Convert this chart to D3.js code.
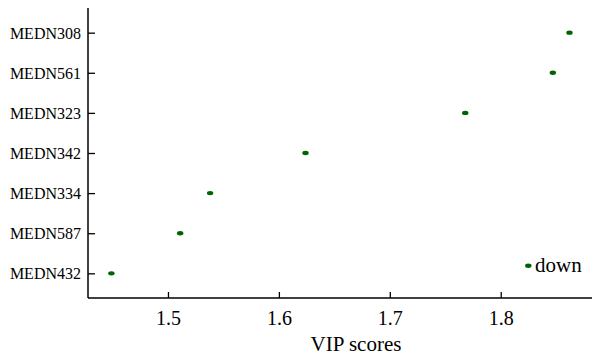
<!DOCTYPE html>
<html>
<head>
<meta charset="utf-8">
<script src="https://cdn.jsdelivr.net/npm/d3@7"></script>
</head>
<body style="margin:0; background:#fff">
<div id="chart"></div>
<script>
// metabolites from top to bottom, with their VIP scores
const metabolites = ["MEDN308", "MEDN561", "MEDN323", "MEDN342", "MEDN334", "MEDN587", "MEDN432"];
const vipScores = [1.862, 1.847, 1.768, 1.624, 1.538, 1.511, 1.449];
const xTicks = [1.5, 1.6, 1.7, 1.8];
const legendLabel = "down";

const width = 592, height = 360;
const plotLeft = 88, plotRight = 592, plotTop = 8, plotBottom = 298;
const serif = '"Liberation Serif"';

const svg = d3.select('#chart').append('svg')
    .attr('width', width)
    .attr('height', height);

const x = d3.scaleLinear().domain([1.4279, 1.8823]).range([plotLeft, plotRight]);
// MEDN308 on top, so reversed domain against a bottom-to-top range
const y = d3.scalePoint().domain(metabolites.slice().reverse())
    .range([plotBottom, plotTop]).padding(0.615);

// x axis
const xAxis = svg.append('g')
    .attr('transform', `translate(0,${plotBottom})`)
    .call(d3.axisBottom(x).tickValues(xTicks).tickSize(-6).tickPadding(12).tickFormat(d3.format('.1f')));
xAxis.select('.domain').remove();
xAxis.selectAll('line').attr('stroke-width', 1.3);
xAxis.selectAll('text')
    .style('font-family', serif).style('font-size', '20px').attr('fill', '#000').attr('dy', '0.75em');

// y axis
const yAxis = svg.append('g')
    .attr('transform', `translate(${plotLeft},0)`)
    .call(d3.axisLeft(y).tickSize(-7).tickPadding(7));
yAxis.select('.domain').remove();
yAxis.selectAll('line').attr('stroke-width', 1.3);
yAxis.selectAll('text')
    .style('font-family', serif).style('font-size', '16px').attr('fill', '#000').attr('dy', '0.35em');

// axis lines
svg.append('line').attr('x1', plotLeft).attr('x2', plotLeft).attr('y1', plotTop).attr('y2', plotBottom)
    .attr('stroke', '#000').attr('stroke-width', 1.5);
svg.append('line').attr('x1', plotLeft).attr('x2', plotRight).attr('y1', plotBottom).attr('y2', plotBottom)
    .attr('stroke', '#000').attr('stroke-width', 1.5);

// points
svg.selectAll('ellipse.pt').data(metabolites).enter().append('ellipse')
    .attr('class', 'pt')
    .attr('cx', (d, i) => x(vipScores[i]))
    .attr('cy', d => y(d))
    .attr('rx', 3.2)
    .attr('ry', 2.2)
    .attr('fill', '#006400');

// axis title
svg.append('text')
    .attr('x', 356)
    .attr('y', 351)
    .attr('text-anchor', 'middle')
    .style('font-family', serif)
    .style('font-size', '21px')
    .text('VIP scores');

// legend
svg.append('ellipse')
    .attr('cx', 528.3).attr('cy', 265.7)
    .attr('rx', 3.2).attr('ry', 2.2)
    .attr('fill', '#006400');
svg.append('text')
    .attr('x', 535)
    .attr('y', 272)
    .style('font-family', serif)
    .style('font-size', '21px')
    .text(legendLabel);
</script>
</body>
</html>
